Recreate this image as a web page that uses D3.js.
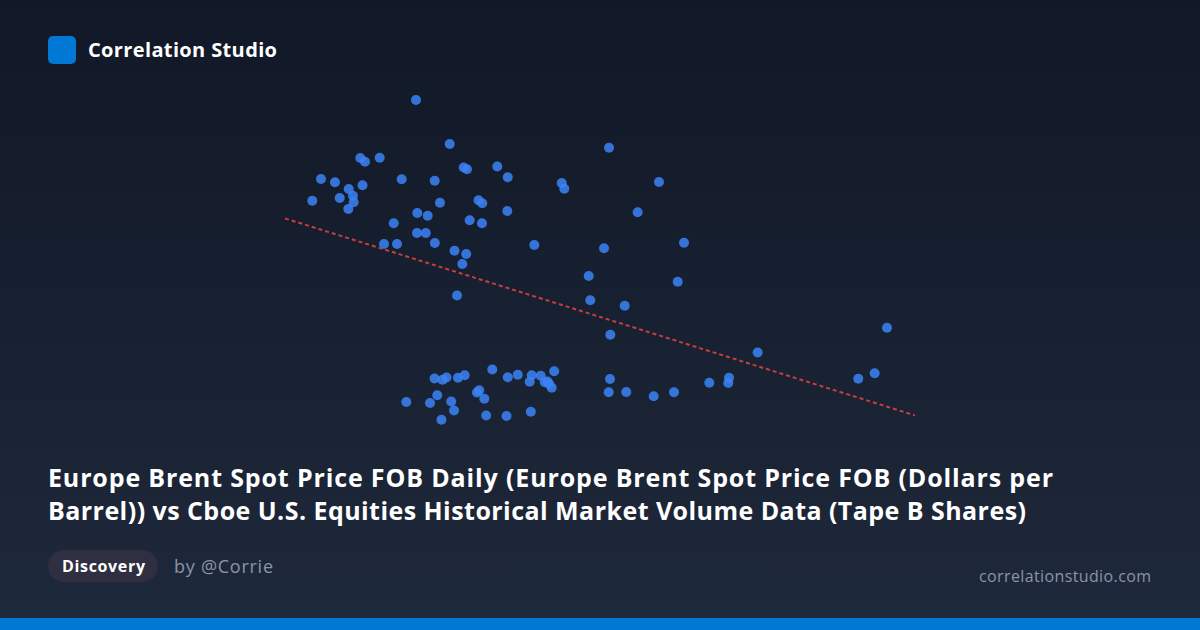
<!DOCTYPE html>
<html>
<head>
<meta charset="utf-8">
<script src="https://cdn.jsdelivr.net/npm/d3@7"></script>
<style>
  html, body { margin: 0; padding: 0; background: #111827; }
  svg { display: block; }
</style>
</head>
<body>
<svg id="chart" width="1200" height="630"></svg>
<script>
// Europe Brent spot price (USD/bbl)
const brentPrice = [
  39.83, 45.45, 30.55, 31.33, 33.78, 47.78, 48.33, 53.38, 55.12, 24.00,
  26.33, 28.62, 30.92, 37.45, 42.95, 22.55, 27.12, 29.33, 29.45, 28.55,
  43.83, 50.25, 50.88, 55.05, 40.05, 41.78, 36.12, 48.78, 50.83, 40.00,
  41.47, 42.97, 34.50, 36.67, 46.25, 48.20, 47.55, 59.55, 46.67, 64.12,
  64.55, 72.00, 80.33, 76.78, 71.17, 84.50, 68.62, 83.45, 68.88, 74.62,
  72.22, 118.33, 96.78, 82.83, 88.72, 92.00, 91.88, 113.55, 116.28, 38.22,
  42.92, 44.25, 44.92, 46.83, 47.95, 52.55, 55.13, 56.80, 59.12, 60.62,
  62.87, 58.78, 61.30, 61.75, 62.03, 62.45, 43.38, 42.17, 45.70, 46.17,
  44.08, 50.00, 50.37, 51.22, 51.53, 54.92, 58.97, 72.17, 71.95, 74.88,
  79.45
];
// Cboe U.S. equities Tape B volume (million shares)
const tapeBShares = [
  465.00, 443.00, 436.00, 434.15, 436.15, 431.25, 430.35, 431.75, 426.40, 425.50,
  423.85, 420.50, 422.35, 425.35, 424.65, 414.65, 416.00, 417.10, 413.85, 410.50,
  413.65, 414.90, 413.35, 409.50, 408.50, 407.15, 403.35, 404.85, 403.35, 398.50,
  398.50, 393.50, 393.00, 393.00, 389.65, 388.00, 383.00, 392.50, 367.25, 423.50,
  420.65, 441.15, 424.00, 408.85, 390.85, 393.65, 377.00, 374.15, 364.85, 362.15,
  347.65, 351.15, 338.75, 318.85, 323.65, 326.15, 323.50, 325.65, 328.35, 314.00,
  325.75, 325.10, 326.25, 326.10, 327.40, 330.25, 326.35, 327.65, 327.35, 327.10,
  329.35, 324.15, 323.90, 324.25, 323.00, 321.15, 317.40, 313.50, 314.25, 309.75,
  305.10, 318.75, 319.90, 315.60, 307.25, 307.00, 309.15, 325.50, 318.85, 319.00,
  316.85
];
// Trend line end points (price, volume)
const trendX = [18, 123];
const trendY = [405.8, 307.3];

const xDomain = [18, 123];
const yDomain = [300, 480];

const titleLines = [
  "Europe Brent Spot Price FOB Daily (Europe Brent Spot Price FOB (Dollars per",
  "Barrel)) vs Cboe U.S. Equities Historical Market Volume Data (Tape B Shares)"
];
const brandName = "Correlation Studio";
const tagLabel = "Discovery";
const authorLabel = "by @Corrie";
const siteLabel = "correlationstudio.com";

const W = 1200, H = 630;
const FONT = "'Segoe UI', 'Open Sans', 'Noto Sans', sans-serif";
const svg = d3.select("#chart");

const defs = svg.append("defs");
const grad = defs.append("linearGradient").attr("id", "bg").attr("x1", 0).attr("y1", 0).attr("x2", 0).attr("y2", 1);
grad.append("stop").attr("offset", "0%").attr("stop-color", "#111827");
grad.append("stop").attr("offset", "100%").attr("stop-color", "#1e293b");
svg.append("rect").attr("width", W).attr("height", H).attr("fill", "url(#bg)");

// brand
svg.append("rect").attr("x", 48).attr("y", 36).attr("width", 28).attr("height", 28).attr("rx", 5).attr("fill", "#0078d4");
svg.append("text").attr("x", 88).attr("y", 57).attr("fill", "#ffffff")
  .attr("font-family", FONT).attr("font-weight", 700).attr("font-size", 20)
  .attr("textLength", 189).attr("lengthAdjust", "spacing").text(brandName);

// scales
const x = d3.scaleLinear().domain(xDomain).range([285, 915]);
const y = d3.scaleLinear().domain(yDomain).range([430, 70]);

// trend line
const trendPts = trendX.map((v, i) => [v, trendY[i]]);
svg.append("path")
  .attr("d", d3.line().x(d => x(d[0])).y(d => y(d[1]))(trendPts))
  .attr("fill", "none").attr("stroke", "#d9413f").attr("stroke-opacity", 0.9)
  .attr("stroke-width", 2).attr("stroke-dasharray", "4,3");

// points
const pts = brentPrice.map((v, i) => ({ x: v, y: tapeBShares[i] }));
svg.append("g").selectAll("circle").data(pts).join("circle")
  .attr("cx", d => x(d.x)).attr("cy", d => y(d.y)).attr("r", 5)
  .attr("fill", "#3b82f6").attr("fill-opacity", 0.85);

// title
const titleWidths = [1005, 978];
titleLines.forEach((t, i) => {
  svg.append("text").attr("fill", "#ffffff").attr("font-family", FONT)
    .attr("font-weight", 700).attr("font-size", 25)
    .attr("x", 48).attr("y", 487 + i * 33)
    .attr("textLength", titleWidths[i]).attr("lengthAdjust", "spacing")
    .text(t);
});

// tag pill
svg.append("rect").attr("x", 48).attr("y", 550).attr("width", 110).attr("height", 32).attr("rx", 16).attr("fill", "#302f42");
svg.append("text").attr("x", 62).attr("y", 572).attr("fill", "#ffffff")
  .attr("font-family", FONT).attr("font-weight", 700).attr("font-size", 16)
  .attr("textLength", 83).attr("lengthAdjust", "spacing").text(tagLabel);
svg.append("text").attr("x", 174).attr("y", 573).attr("fill", "#8b95a7")
  .attr("font-family", FONT).attr("font-size", 18)
  .attr("textLength", 99).attr("lengthAdjust", "spacing").text(authorLabel);
svg.append("text").attr("x", 979).attr("y", 582).attr("fill", "#8b95a7")
  .attr("font-family", FONT).attr("font-size", 16)
  .attr("textLength", 172).attr("lengthAdjust", "spacing").text(siteLabel);

// bottom bar
svg.append("rect").attr("x", 0).attr("y", 618).attr("width", W).attr("height", 12).attr("fill", "#0078d4");
</script>
</body>
</html>
